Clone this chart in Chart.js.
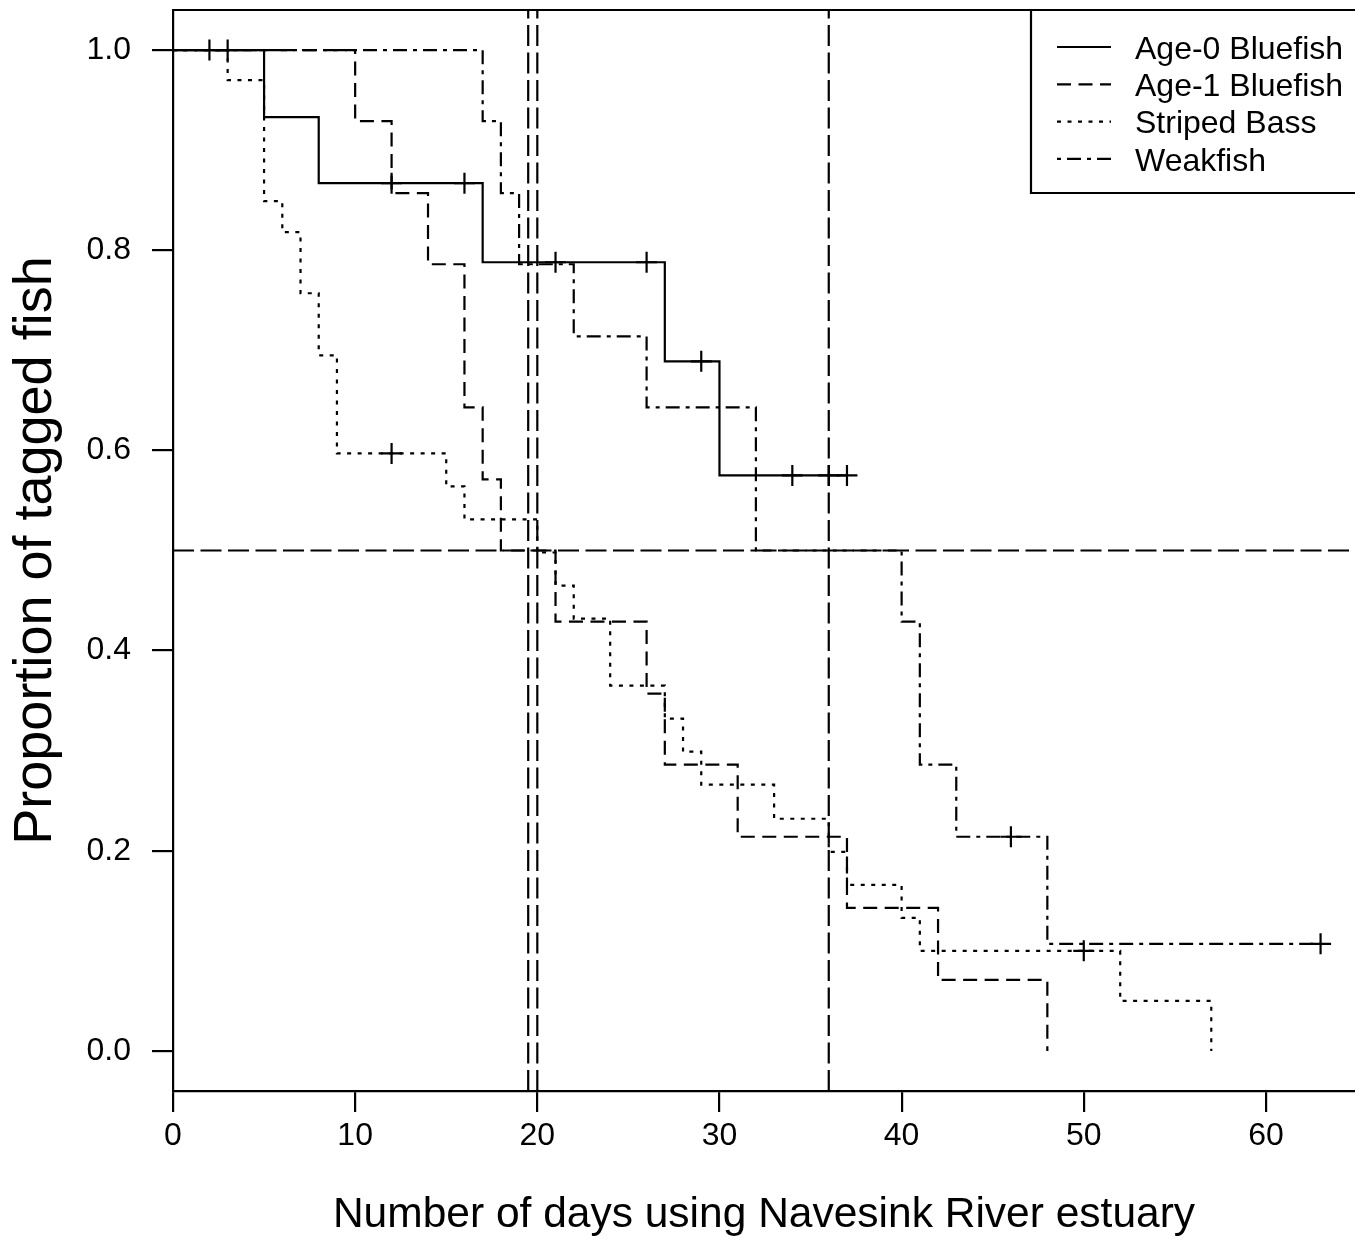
<!DOCTYPE html>
<html><head><meta charset="utf-8">
<script src="https://cdn.jsdelivr.net/npm/chart.js@4.4.1/dist/chart.umd.min.js"></script>
<style>html,body{margin:0;padding:0;background:#fff;overflow:hidden}canvas{display:block}</style>
</head><body>
<canvas id="c" width="1355" height="1241"></canvas>
<script>
// ---- data ----
const seriesNames = ['Age-0 Bluefish', 'Age-1 Bluefish', 'Striped Bass', 'Weakfish'];

const age0Days = [0, 5, 8, 17, 27, 30, 37];
const age0Surv = [1, 0.933, 0.867, 0.788, 0.689, 0.575, 0.575];
const age0CensorDays = [2, 3, 12, 16, 21, 26, 29, 34, 36, 37];
const age0CensorSurv = [1, 1, 0.867, 0.867, 0.788, 0.788, 0.689, 0.575, 0.575, 0.575];

const age1Days = [0, 10, 12, 14, 16, 17, 18, 21, 26, 27, 31, 37, 42, 48];
const age1Surv = [1, 0.929, 0.857, 0.786, 0.643, 0.571, 0.5, 0.429, 0.357, 0.286, 0.214, 0.143, 0.071, 0];

const bassDays = [0, 3, 5, 6, 7, 8, 9, 15, 16, 20, 21, 22, 24, 27, 28, 29, 33, 36, 37, 40, 41, 52, 57];
const bassSurv = [1, 0.97, 0.849, 0.818, 0.757, 0.695, 0.597, 0.564, 0.531, 0.498, 0.465, 0.432, 0.365, 0.332, 0.299, 0.266, 0.232, 0.199, 0.166, 0.133, 0.1, 0.05, 0];
const bassCensorDays = [12, 50];
const bassCensorSurv = [0.597, 0.1];

const weakDays = [0, 17, 18, 19, 22, 26, 32, 40, 41, 43, 48, 63];
const weakSurv = [1, 0.929, 0.857, 0.786, 0.714, 0.643, 0.5, 0.429, 0.286, 0.214, 0.107, 0.107];
const weakCensorDays = [46, 63];
const weakCensorSurv = [0.214, 0.107];

const medianLevel = 0.5;
const medianDays = [19.5, 20, 36];

const xTicks = [0, 10, 20, 30, 40, 50, 60];
const xTickLabels = ['0', '10', '20', '30', '40', '50', '60'];
const yTicks = [0, 0.2, 0.4, 0.6, 0.8, 1.0];
const yTickLabels = ['0.0', '0.2', '0.4', '0.6', '0.8', '1.0'];
const xMin = 0, xMax = 64.89, yMin = -0.04, yMax = 1.04;

const xTitle = 'Number of days using Navesink River estuary';
const yTitle = 'Proportion of tagged fish';

// ---- styles ----
const LW = 2.2;
const FONT = "'Liberation Sans', Arial, Helvetica, sans-serif";
const dashes = [[], [14, 7.5], [4, 6.5], [4, 6, 14, 6]];
const longDash = [21, 6.5];

const zip = (xs, ys) => xs.map((x, i) => ({x: x, y: ys[i]}));

function curve(days, surv, dash) {
  return {data: zip(days, surv), showLine: true, stepped: true, borderColor: '#000', borderWidth: LW,
    borderDash: dash, pointRadius: 0, pointHoverRadius: 0, fill: false, tension: 0};
}
function marks(days, surv) {
  return {data: zip(days, surv), showLine: false, pointStyle: 'cross', pointRadius: 10.5, pointHoverRadius: 10.5,
    pointBorderColor: '#000', pointBorderWidth: LW, pointBackgroundColor: '#000'};
}
function refLine(pts) {
  return {data: pts, showLine: true, borderColor: '#000', borderWidth: LW, borderDash: longDash,
    pointRadius: 0, pointHoverRadius: 0, fill: false, tension: 0};
}

const datasets = [
  curve(age0Days, age0Surv, dashes[0]),
  curve(age1Days, age1Surv, dashes[1]),
  curve(bassDays, bassSurv, dashes[2]),
  curve(weakDays, weakSurv, dashes[3]),
  marks(age0CensorDays, age0CensorSurv),
  marks(bassCensorDays, bassCensorSurv),
  marks(weakCensorDays, weakCensorSurv),
  refLine([{x: xMin, y: medianLevel}, {x: xMax, y: medianLevel}])
].concat(medianDays.map(d => refLine([{x: d, y: yMin}, {x: d, y: yMax}])));

const framePlugin = {
  id: 'frameLegend',
  afterDraw(chart) {
    const {ctx, chartArea: a} = chart;
    ctx.save();
    ctx.strokeStyle = '#000';
    ctx.lineWidth = LW;
    ctx.setLineDash([]);
    ctx.beginPath();
    ctx.moveTo(a.left, a.top);
    ctx.lineTo(a.right + 5, a.top);
    ctx.stroke();
    // legend box (top-right)
    const bx = a.right - 324, by = a.top, bh = 183;
    ctx.fillStyle = '#fff';
    ctx.beginPath();
    ctx.rect(bx, by, a.right - bx + 10, bh);
    ctx.fill();
    ctx.stroke();
    ctx.font = '32px ' + FONT;
    ctx.textBaseline = 'middle';
    ctx.textAlign = 'left';
    ctx.fillStyle = '#000';
    for (let i = 0; i < seriesNames.length; i++) {
      const y = by + 37 + i * 37.3;
      ctx.setLineDash(dashes[i]);
      ctx.beginPath();
      ctx.moveTo(bx + 26, y);
      ctx.lineTo(bx + 80, y);
      ctx.stroke();
      ctx.fillText(seriesNames[i], bx + 104, y + 3);
    }
    ctx.restore();
  }
};

Chart.defaults.font.family = FONT;
Chart.defaults.color = '#000';

new Chart(document.getElementById('c'), {
  type: 'scatter',
  data: {datasets: datasets},
  options: {
    responsive: false,
    animation: false,
    events: [],
    layout: {autoPadding: false, padding: {left: 0, right: 0, top: 10, bottom: 0}},
    plugins: {legend: {display: false}, tooltip: {enabled: false}},
    scales: {
      x: {
        type: 'linear', min: xMin, max: xMax,
        afterBuildTicks: s => { s.ticks = xTicks.map(v => ({value: v})); },
        afterFit: s => { s.height = 150; s.paddingLeft = 0; s.paddingRight = 0; },
        ticks: {font: {size: 32}, padding: 5, color: '#000', maxRotation: 0, autoSkip: false,
          callback: (v, i) => xTickLabels[i]},
        grid: {display: true, drawOnChartArea: false, drawTicks: true, tickLength: 21, color: '#000', lineWidth: LW, tickWidth: LW, tickColor: '#000'},
        border: {display: true, color: '#000', width: LW},
        title: {display: true, text: xTitle, font: {size: 42.5}, color: '#000', padding: {top: 0, bottom: 0}}
      },
      y: {
        type: 'linear', min: yMin, max: yMax,
        afterBuildTicks: s => { s.ticks = yTicks.map(v => ({value: v})); },
        afterFit: s => { s.width = 173; s.paddingTop = 0; s.paddingBottom = 0; },
        ticks: {font: {size: 32}, padding: 21, color: '#000', autoSkip: false,
          callback: (v, i) => yTickLabels[i]},
        grid: {display: true, drawOnChartArea: false, drawTicks: true, tickLength: 21, color: '#000', lineWidth: LW, tickWidth: LW, tickColor: '#000'},
        border: {display: true, color: '#000', width: LW},
        title: {display: true, text: yTitle, font: {size: 54}, color: '#000', padding: {top: 4, bottom: 0}}
      }
    }
  },
  plugins: [framePlugin]
});
</script>
</body></html>
